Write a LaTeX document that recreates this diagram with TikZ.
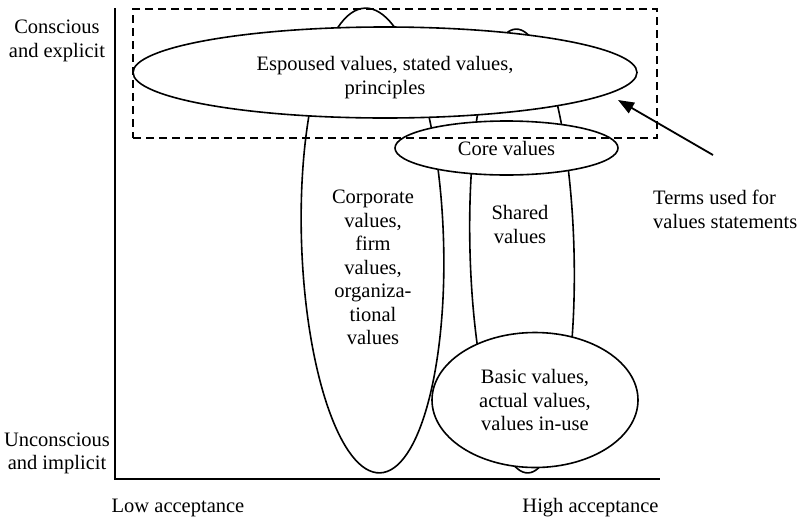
\documentclass[tikz,border=0pt]{standalone}
\usepackage{fontspec}
\setmainfont{Liberation Serif}
\usetikzlibrary{shapes.geometric,arrows.meta}
\tikzset{
    valueoval/.style={ellipse,draw,line width=1.6pt,fill=white,inner sep=0pt},
    caption/.style={font=\fontsize{20.5}{23.5}\selectfont,align=center,inner sep=0pt},
    axisline/.style={line width=1.8pt},
    termsbox/.style={draw,dash pattern=on 8pt off 5pt,line width=1.3pt,inner sep=0pt},
    pointer/.style={-{Triangle[length=16pt,width=12pt]},line width=1.8pt},
}

\begin{document}
\begin{tikzpicture}[x=1pt,y=-1pt]
  \useasboundingbox (0,0) rectangle (798,520);
  \coordinate (ytop) at (115,8);
  \coordinate (origin) at (115,479);
  \coordinate (xend) at (660,479);
  \coordinate (arrowtail) at (713,155);
  \coordinate (arrowtip) at (618,100);
  \draw[axisline] (ytop) -- (origin) -- (xend);
  \node[valueoval,minimum width=142pt,minimum height=465pt,rotate=1.85] (corporate) at (372.5,240.5) {};
  \node[valueoval,minimum width=104pt,minimum height=444pt,rotate=1.55] (shared) at (522,251) {};
  \node[valueoval,minimum width=504pt,minimum height=91pt] (espoused) at (385,72.5) {};
  \node[valueoval,minimum width=223pt,minimum height=54pt,caption] (core) at (506.5,148) {Core values};
  \node[valueoval,minimum width=206pt,minimum height=135pt,caption] (basic) at (535,400) {Basic values,\\actual values,\\values in-use};
  \node[caption] (espousedtext) at (385,77.5) {Espoused values, stated values,\\principles};
  \node[caption] (corporatetext) at (373,267.5) {Corporate\\values,\\firm\\values,\\organiza-\\tional\\values};
  \node[caption] (sharedtext) at (520,224.5) {Shared\\values};
  \node[termsbox,minimum width=524pt,minimum height=129pt] (statementsbox) at (395,73.5) {};
  \draw[pointer] (arrowtail) -- (arrowtip);
  \node[caption,align=left,anchor=west] (terms) at (653,209.5) {Terms used for\\values statements};
  \node[caption] (conscious) at (57,41) {Conscious\\and explicit};
  \node[caption] (unconscious) at (57,453.5) {Unconscious\\and implicit};
  \node[caption] (lowacc) at (178,508) {Low acceptance};
  \node[caption] (highacc) at (590.5,508) {High acceptance};
\end{tikzpicture}
\end{document}
